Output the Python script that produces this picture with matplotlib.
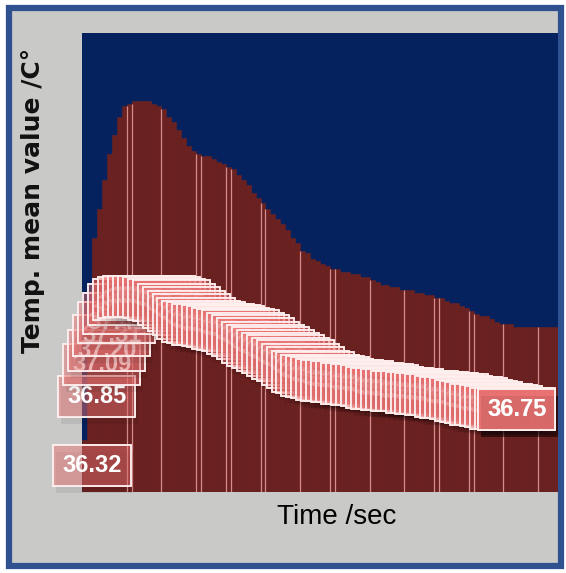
import numpy as np
import matplotlib.pyplot as plt
from matplotlib.patches import Rectangle
import matplotlib.patheffects as pe

# Mean temperature (deg C) for each time step
temp_mean = [
    36.32, 36.85, 37.09, 37.20, 37.31, 37.41, 37.48, 37.55, 37.59, 37.60,
    37.61, 37.61, 37.61, 37.61, 37.60, 37.59, 37.58, 37.55, 37.53, 37.50,
    37.47, 37.44, 37.42, 37.41, 37.40, 37.40, 37.39, 37.38, 37.37, 37.36,
    37.35, 37.33, 37.31, 37.29, 37.26, 37.24, 37.22, 37.20, 37.18, 37.16,
    37.14, 37.12, 37.09, 37.07, 37.04, 37.03, 37.01, 37.00, 36.99, 36.98,
    36.97, 36.97, 36.96, 36.96, 36.95, 36.95, 36.94, 36.94, 36.93, 36.92,
    36.91, 36.91, 36.90, 36.90, 36.89, 36.89, 36.89, 36.88, 36.88, 36.87,
    36.87, 36.86, 36.86, 36.85, 36.84, 36.84, 36.83, 36.82, 36.81, 36.80,
    36.79, 36.79, 36.78, 36.77, 36.76, 36.76, 36.76, 36.75, 36.75, 36.75,
    36.75, 36.75, 36.75, 36.75, 36.75, 36.75,
]

# bar boundaries that show a thin light seam
seams = [9, 10, 16, 23, 24, 29, 30, 36, 37, 44, 50, 51, 58, 65, 71, 72, 78, 79, 85, 92]

base = 36.12
top = 37.87

n = len(temp_mean)
x = np.arange(n)
vals = np.array(temp_mean)

fig = plt.figure(figsize=(5.66, 5.73), dpi=100, facecolor="white")

# gray panel with blue frame (behind the axes)
fig.patches.append(Rectangle((0.016, 0.0125), 0.975, 0.974, transform=fig.transFigure,
                             facecolor="#c9c9c7", edgecolor="#2f5190", linewidth=4.5,
                             zorder=-5))

ax = fig.add_axes([0.1449, 0.1414, 0.841, 0.801])
ax.set_zorder(1)
ax.set_facecolor("#05225f")

ax.bar(x, vals - base, bottom=base, width=1.0, color="#6c2121",
       edgecolor="#6c2121", linewidth=0.4, zorder=2)

# light seams between some bars
for k in seams:
    h = min(vals[k - 1], vals[k])
    ax.vlines(k - 0.5, base, h, color="#e8a0a0", linewidth=0.9, alpha=0.85, zorder=3)

ax.set_xlim(-0.5, n - 0.5)
ax.set_ylim(base, top)
ax.set_xticks([])
ax.set_yticks([])
for s in ax.spines.values():
    s.set_visible(False)

# value labels in the middle of each bar, kept inside the right edge
half_w = 8.3
for i, v in enumerate(vals):
    lx = min(i + 1.5, n - 0.5 - half_w)
    ly = (base + v) / 2
    t = ax.text(lx, ly, f"{v:.2f}", ha="center", va="center", color="white",
                fontsize=17, fontweight="bold", family="Liberation Sans",
                zorder=4 + i * 0.01, clip_on=False,
                bbox=dict(boxstyle="square,pad=0.38", facecolor=(0.92, 0.45, 0.45, 0.28),
                          edgecolor=(1, 0.94, 0.94, 0.95), linewidth=1.2))
    t.get_bbox_patch().set_path_effects([
        pe.withSimplePatchShadow(offset=(2, -5), shadow_rgbFace="black", alpha=0.07),
        pe.Normal()])

fig.text(0.058, 0.651, "Temp. mean value /C°", rotation=90, ha="center", va="center",
         fontsize=18, fontweight="bold", family="DejaVu Sans", color="#111111")
fig.text(0.595, 0.098, "Time /sec", ha="center", va="center",
         fontsize=20, family="Liberation Sans", color="black")

fig.savefig("out.png", dpi=100, facecolor=fig.get_facecolor())
